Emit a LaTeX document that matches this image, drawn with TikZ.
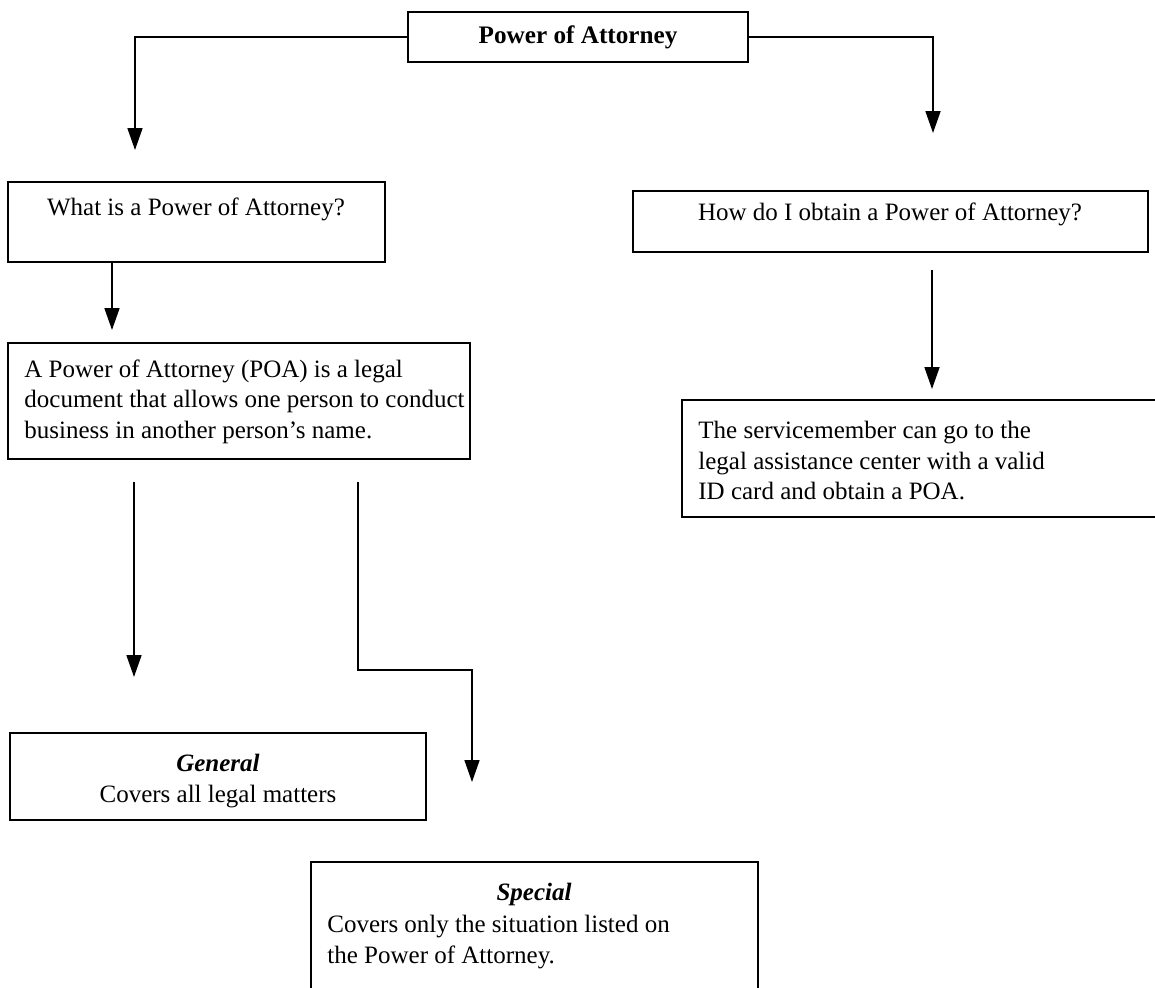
\documentclass[tikz,border=0pt]{standalone}
\usepackage{fontspec}
\setmainfont{Liberation Serif}
\usetikzlibrary{arrows.meta,fit}
\begin{document}
\begin{tikzpicture}[x=0.5pt,y=-0.5pt,
  box/.style={draw,line width=1pt,inner sep=0pt},
  txt/.style={inner sep=0pt,font=\fontsize{12.5}{15.3}\selectfont},
  para/.style={txt,anchor=north west,align=left},
  link/.style={line width=0.85pt,-{Triangle[length=11pt,width=7.5pt]}}]
\useasboundingbox (0,0) rectangle (1155,987);
\clip (0,0) rectangle (1155,987);

% boxes
\node[box,fit={(408,12)(748,62)}] (top) {};
\node[box,fit={(8,182)(385,262)}] (what) {};
\node[box,fit={(8,343)(470,459)}] (def) {};
\node[box,fit={(633,191)(1148,252)}] (how) {};
\node[box,fit={(682,400)(1175,517)}] (svc) {};
\node[box,fit={(10,733)(426,820)}] (gen) {};
\node[box,fit={(311,862)(758,1010)}] (spc) {};

% texts
\node[txt,font=\fontsize{12.6}{15.3}\selectfont\bfseries] (topT) at (578,37) {Power of Attorney};
\node[txt] (whatT) at (196,209) {What is a Power of Attorney?};
\node[para] (defT) at (24,359) {A Power of Attorney (POA) is a legal\\document that allows one person to conduct\\business in another person’s name.};
\node[txt] (howT) at (890,214) {How do I obtain a Power of Attorney?};
\node[para] (svcT) at (698,421) {The servicemember can go to the\\legal assistance center with a valid\\ID card and obtain a POA.};
\node[txt,align=center] (genT) at (218,781) {\textbf{\textit{General}}\\Covers all legal matters};
\node[txt] (spcH) at (534,894) {\textbf{\textit{Special}}};
\node[para] (spcT) at (327,915) {Covers only the situation listed on\\the Power of Attorney.};

% connector end points
\coordinate (tipL) at (135,150);
\coordinate (tipR) at (933,133);
\coordinate (tipDef) at (112,330);
\coordinate (howOut) at (932,270);
\coordinate (tipSvc) at (932,389);
\coordinate (genOut) at (134,482);
\coordinate (tipGen) at (134,677);
\coordinate (spcOut) at (358,482);
\coordinate (spcBend) at (472,670);
\coordinate (tipSpc) at (472,782);

% connectors
\draw[link] (top.west) -| (tipL);
\draw[link] (top.east) -| (tipR);
\draw[link] (tipDef |- what.south) -- (tipDef);
\draw[link] (howOut) -- (tipSvc);
\draw[link] (genOut) -- (tipGen);
\draw[link] (spcOut) |- (spcBend) -- (tipSpc);
\end{tikzpicture}
\end{document}
